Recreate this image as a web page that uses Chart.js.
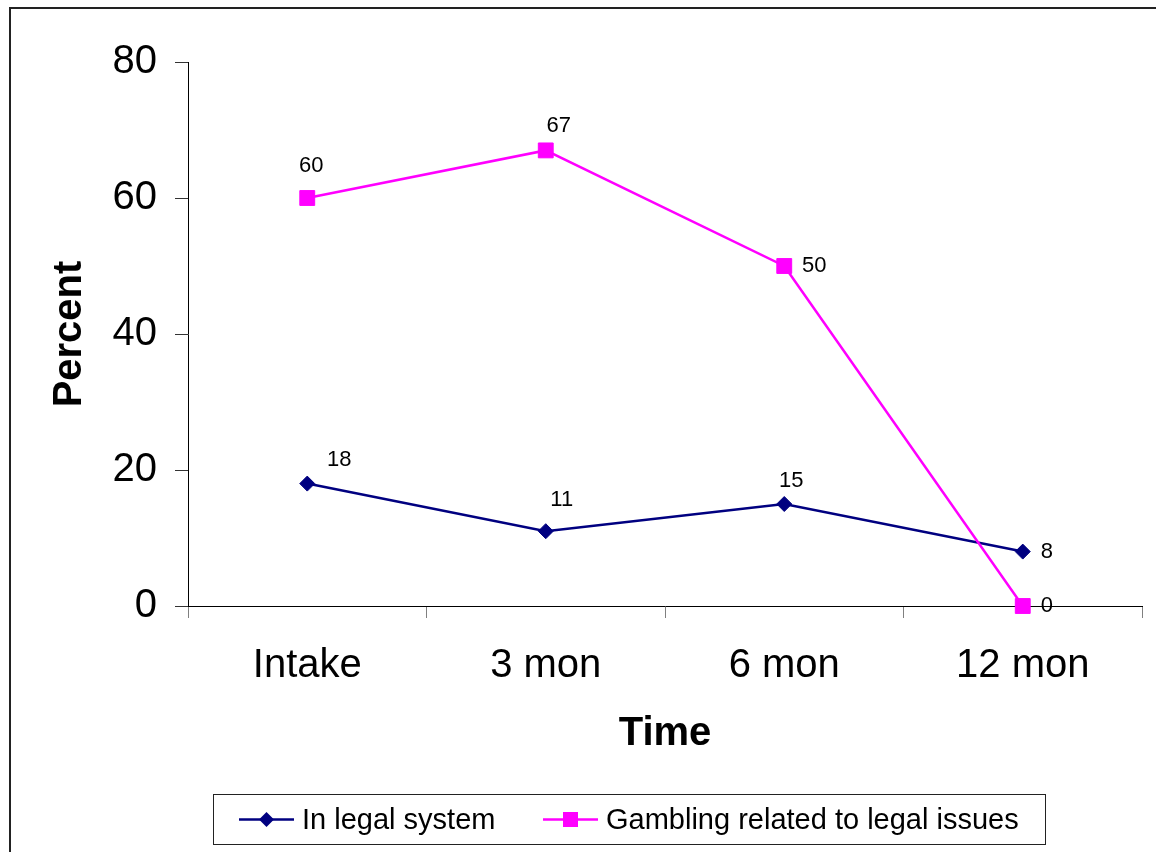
<!DOCTYPE html>
<html>
<head>
<meta charset="utf-8">
<title>Legal issues over time</title>
<script src="https://cdn.jsdelivr.net/npm/chart.js@4.4.1/dist/chart.umd.min.js"></script>
<style>
  body { margin: 0; background: #fff; font-family: "Liberation Sans", Arial, sans-serif; }
  #frame { position: absolute; left: 9px; top: 7px; width: 1200px; height: 900px; border: 2px solid #222; }
  #myChart { position: absolute; left: 0; top: 0; }
  #legend { position: absolute; left: 213px; top: 794px; width: 831px; height: 49px; border: 1px solid #222; }
  .item { position: absolute; top: 0; height: 49px; display: flex; align-items: center; font-size: 29px; color: #000; white-space: nowrap; }
  .item svg { margin-right: 8px; }
</style>
</head>
<body>
<div id="frame"></div>
<canvas id="myChart" width="1156" height="852"></canvas>
<div id="legend"></div>
<script>
// Chart data
const timePoints = ['Intake', '3 mon', '6 mon', '12 mon'];
const inLegalSystem = [18, 11, 15, 8];
const gamblingLegal = [60, 67, 50, 0];
const yTicks = [0, 20, 40, 60, 80];

// Where Excel put each value label (dx, dy from the point)
const labelOffsets = [
  [[32, -24], [16, -31], [7, -23], [24, 0]],
  [[4, -32], [13, -24], [30, 0], [24, 0]],
];

const FONT = '"Liberation Sans", Arial, sans-serif';

const series = [
  { label: 'In legal system', data: inLegalSystem, color: '#000080', style: 'rectRot', radius: 7.5, width: 2.5, order: 1 },
  { label: 'Gambling related to legal issues', data: gamblingLegal, color: '#FF00FF', style: 'rect', radius: 10.5, width: 2.5, order: 0 },
];

// Value labels next to each point
const pointLabels = {
  id: 'pointLabels',
  afterDatasetsDraw(chart) {
    const ctx = chart.ctx;
    ctx.save();
    ctx.font = '22px ' + FONT;
    ctx.fillStyle = '#000';
    ctx.textAlign = 'center';
    ctx.textBaseline = 'middle';
    chart.data.datasets.forEach((ds, i) => {
      chart.getDatasetMeta(i).data.forEach((pt, j) => {
        const off = labelOffsets[i][j];
        ctx.fillText(String(ds.data[j]), pt.x + off[0], pt.y + off[1]);
      });
    });
    ctx.restore();
  }
};

const ctx = document.getElementById('myChart');
const myChart = new Chart(ctx, {
  type: 'line',
  data: {
    labels: timePoints,
    datasets: series.map((s) => ({
      label: s.label,
      data: s.data,
      borderColor: s.color,
      backgroundColor: s.color,
      borderWidth: s.width,
      pointStyle: s.style,
      pointRadius: s.radius,
      pointBorderWidth: 1,
      pointBackgroundColor: s.color,
      pointBorderColor: s.color,
      tension: 0,
      fill: false,
      clip: false,
      order: s.order,
    })),
  },
  options: {
    responsive: false,
    animation: false,
    events: [],
    layout: { padding: { top: 62, right: 14, bottom: 94, left: 0 } },
    plugins: { legend: { display: false }, tooltip: { enabled: false } },
    scales: {
      x: {
        type: 'category',
        offset: true,
        afterFit: (s) => { s.height = 152; },
        grid: { offset: true, drawOnChartArea: false, tickLength: 12, tickColor: '#808080', tickWidth: 1 },
        border: { display: true, color: '#000', width: 1 },
        ticks: { color: '#000', font: { family: FONT, size: 40 }, padding: 24, maxRotation: 0 },
        title: { display: true, text: 'Time', color: '#000', font: { family: FONT, size: 40, weight: 'bold' }, padding: { top: 0, bottom: 0 } },
      },
      y: {
        min: 0,
        max: 80,
        afterFit: (s) => { s.width = 188; },
        afterBuildTicks: (s) => { s.ticks = yTicks.map((v) => ({ value: v })); },
        grid: { drawOnChartArea: false, tickLength: 13, tickColor: '#333', tickWidth: 1 },
        border: { display: true, color: '#000', width: 1 },
        ticks: { color: '#000', font: { family: FONT, size: 40 }, padding: 18 },
        title: { display: true, text: 'Percent', color: '#000', font: { family: FONT, size: 40, weight: 'bold' }, padding: { top: 46, bottom: 0 } },
      },
    },
  },
  plugins: [pointLabels],
});

// HTML legend built from the series
const legend = document.getElementById('legend');
const itemLeft = [25, 329];
series.forEach((s, i) => {
  const item = document.createElement('div');
  item.className = 'item';
  item.style.left = itemLeft[i] + 'px';
  const marker = s.style === 'rect'
    ? '<rect x="20" y="3" width="15" height="15" fill="' + s.color + '"/>'
    : '<polygon points="27.5,3 35,10.5 27.5,18 20,10.5" fill="' + s.color + '"/>';
  item.innerHTML = '<svg width="55" height="21"><line x1="0" y1="10.5" x2="55" y2="10.5" stroke="' + s.color + '" stroke-width="2.5"/>' + marker + '</svg><span>' + s.label + '</span>';
  legend.appendChild(item);
});
</script>
</body>
</html>
